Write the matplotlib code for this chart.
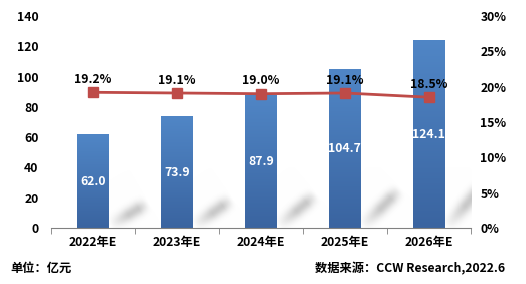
import matplotlib
matplotlib.use("Agg")
import matplotlib.pyplot as plt
import numpy as np

plt.rcParams['font.family'] = ['Noto Sans CJK SC', 'DejaVu Sans']

categories = ["2022年E", "2023年E", "2024年E", "2025年E", "2026年E"]
values = [62.0, 73.9, 87.9, 104.7, 124.1]
growth = [19.2, 19.1, 19.0, 19.1, 18.5]
left_ticks = [0, 20, 40, 60, 80, 100, 120, 140]
right_ticks = [0, 5, 10, 15, 20, 25, 30]

FS = 8.8
fig = plt.figure(figsize=(5.26, 2.84), dpi=100)
ax = fig.add_axes([0.097, 0.197, 0.798, 0.747])
x = np.arange(len(categories))
w = 0.38

# soft diagonal shadows (opaque image blended with white)
px_x = 84.0            # pixels per x unit
px_y = 212.0 / 140.0   # pixels per y unit
for xi, v in zip(x, values):
    xr = xi + w / 2
    x0, y0 = xr + 0.06, 3.5
    dy = v * 0.19
    x1, y1 = xr + 0.42, y0 + dy
    ext = [xr, min(xr + 0.75, 4.5), 0.3, 40]
    nx = int(round((ext[1] - ext[0]) * px_x))
    ny = int(round((ext[3] - ext[2]) * px_y))
    gx = (np.arange(nx) + 0.5) / nx * (ext[1] - ext[0]) + ext[0]
    gy = (np.arange(ny) + 0.5) / ny * (ext[3] - ext[2]) + ext[2]
    GX, GY = np.meshgrid(gx, gy)
    ax_, ay_ = x0 * px_x, y0 * px_y
    bx_, by_ = x1 * px_x, y1 * px_y
    PX, PY = GX * px_x, GY * px_y
    vx, vy = bx_ - ax_, by_ - ay_
    t = ((PX - ax_) * vx + (PY - ay_) * vy) / (vx * vx + vy * vy)
    tc = np.clip(t, 0, 1)
    d = np.hypot(PX - (ax_ + tc * vx), PY - (ay_ + tc * vy))
    fade = np.clip(t * 1.6 + 0.25, 0, 1) * np.clip((1.15 - t) * 3, 0, 1)
    alpha = 0.42 * np.exp(-(d / 6.5) ** 2) * fade
    shade = 1.0 - alpha * 0.5
    rgb = np.stack([shade, shade, shade], axis=-1)
    ax.imshow(rgb, extent=ext, origin='lower', aspect='auto', zorder=1, interpolation='nearest')

bars = ax.bar(x, values, width=w, color='#4a7bb9', zorder=2)
grad = np.linspace(0, 1, 256).reshape(-1, 1)
cmap = matplotlib.colors.LinearSegmentedColormap.from_list('g', ['#3a64a0', '#5086c6'])
for b in bars:
    bx, bw, bh = b.get_x(), b.get_width(), b.get_height()
    im = ax.imshow(grad, extent=[bx, bx + bw, 0, bh], origin='lower', aspect='auto',
                   cmap=cmap, zorder=3)
    im.set_clip_path(b)

for xi, v in zip(x, values):
    ax.text(xi, v / 2, f"{v:.1f}", ha='center', va='center', color='white', fontsize=FS,
            fontweight='bold', zorder=5)

ax.set_xlim(-0.5, 4.5)
ax.set_ylim(0, 140)
ax.set_yticks(left_ticks)
ax.set_yticklabels([str(t) for t in left_ticks], fontsize=FS, fontweight='bold')
ax.set_xticks(x)
ax.set_xticklabels(categories, fontsize=FS, fontweight='bold')
ax.tick_params(axis='y', length=0, pad=9)
ax.tick_params(axis='x', length=0, pad=6)
ax.set_xticks(np.arange(-0.5, 5, 1), minor=True)
ax.tick_params(axis='x', which='minor', length=4, color='#808080')
for s in ['top', 'right', 'left']:
    ax.spines[s].set_visible(False)
ax.spines['bottom'].set_color('#808080')
ax.spines['bottom'].set_zorder(4)

ax2 = ax.twinx()
ax2.set_ylim(0, 30)
ax2.plot(x, growth, color='#be4b48', lw=2, marker='s', markersize=7, zorder=6)
for xi, g in zip(x, growth):
    ax2.annotate(f"{g:.1f}%", (xi, g), xytext=(0, 4.5), textcoords='offset points',
                 ha='center', va='bottom', fontsize=FS, fontweight='bold')
ax2.set_yticks(right_ticks)
ax2.set_yticklabels([f"{t}%" for t in right_ticks], fontsize=FS, fontweight='bold')
ax2.tick_params(axis='y', length=0, pad=7)
for s in ['top', 'right', 'left', 'bottom']:
    ax2.spines[s].set_visible(False)

fig.text(0.02, 0.055, "单位：亿元", fontsize=FS, fontweight='bold', ha='left', va='center')
fig.text(0.96, 0.055, "数据来源：CCW Research,2022.6", fontsize=FS, fontweight='bold',
         ha='right', va='center')

fig.savefig("out.png", dpi=100)
